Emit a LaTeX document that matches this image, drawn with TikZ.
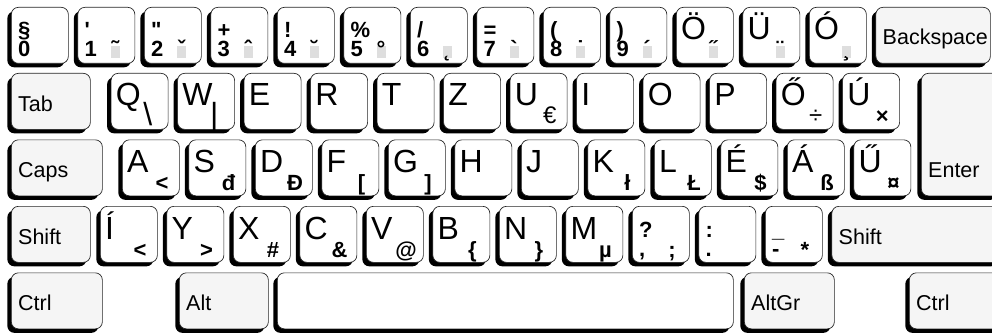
\documentclass[tikz,border=0pt]{standalone}
\usepackage{fontspec}
\setmainfont{Liberation Sans}[Ligatures=TeXOff]
\usetikzlibrary{shadows}
\tikzset{
  keybase/.style={draw=black!85, line width=0.7pt, rounded corners=7pt, inner sep=0pt, anchor=north west, minimum height=56pt, drop shadow={shadow xshift=-4pt, shadow yshift=-4pt, fill=black, opacity=1}},
  lk/.style={keybase, fill=white, minimum width=57pt},
  mk/.style={keybase, fill=black!4},
  biglet/.style={font=\fontsize{32}{32}\selectfont, anchor=base west, inner sep=0pt, text depth=0pt},
  symtop/.style={font=\bfseries\fontsize{22}{22}\selectfont, anchor=base west, inner sep=0pt, text depth=0pt},
  symbot/.style={font=\bfseries\fontsize{22}{22}\selectfont, anchor=base west, inner sep=0pt, text height=0.72em},
  altgr/.style={font=\bfseries\fontsize{22}{22}\selectfont, anchor=base, inner sep=0pt, text height=0.72em},
  altgrthin/.style={font=\fontsize{24}{24}\selectfont, anchor=base, inner sep=0pt, text height=0.72em},
  altgrtall/.style={font=\fontsize{32}{32}\selectfont, anchor=base, inner sep=0pt, text height=0.72em},
  accent/.style={font=\bfseries\fontsize{22}{22}\selectfont, anchor=base, inner sep=0pt, text height=0.72em},
  modl/.style={font=\fontsize{21.5}{21.5}\selectfont, anchor=base west, inner sep=0pt},
  deadbox/.style={fill=black!13},
}
\newcommand\LK[3]{\node[lk] (#1) at (#2,#3) {};}
\newcommand\MK[5]{\node[mk, minimum width=#4pt, minimum height=#5pt] (#1) at (#2,#3) {};}
\newcommand\KL[2]{\node[biglet] at ([shift={(5,33)}]#1.north west) {#2};}
\newcommand\KA[2]{\node[altgr] at ([shift={(40,51)}]#1.north west) {#2};}
\newcommand\KAt[2]{\node[altgrthin] at ([shift={(40,51)}]#1.north west) {#2};}
\newcommand\KAT[2]{\node[altgrtall] at ([shift={(37,52)}]#1.north west) {#2};}
\newcommand\KT[2]{\node[symtop] at ([shift={(7,31)}]#1.north west) {#2};}
\newcommand\KB[2]{\node[symbot] at ([shift={(7,50)}]#1.north west) {#2};}
\newcommand\KD[2]{\path[deadbox] ([shift={(33,39)}]#1.north west) rectangle ([shift={(42,51)}]#1.north west); \node[accent] at ([shift={(37.5,50)}]#1.north west) {#2};}
\newcommand\KM[2]{\node[modl] at ([shift={(7,38)}]#1.north west) {#2};}
\begin{document}
\begin{tikzpicture}[x=1pt,y=-1pt]
\useasboundingbox (0,0) rectangle (992,334);
\clip (0,0) rectangle (992,334);
% row 1
\LK{k0}{11}{7} \KT{k0}{§} \KB{k0}{0}
\LK{k1}{77.5}{7} \KT{k1}{'} \KB{k1}{1} \KD{k1}{˜}
\LK{k2}{144}{7} \KT{k2}{"} \KB{k2}{2} \KD{k2}{ˇ}
\LK{k3}{210.5}{7} \KT{k3}{+} \KB{k3}{3} \KD{k3}{ˆ}
\LK{k4}{277}{7} \KT{k4}{!} \KB{k4}{4} \KD{k4}{˘}
\LK{k5}{343.5}{7} \KT{k5}{\%} \KB{k5}{5} \KD{k5}{°}
\LK{k6}{410}{7} \KT{k6}{/} \KB{k6}{6} \KD{k6}{˛}
\LK{k7}{476.5}{7} \KT{k7}{=} \KB{k7}{7} \KD{k7}{`}
\LK{k8}{543}{7} \KT{k8}{(} \KB{k8}{8} \KD{k8}{˙}
\LK{k9}{609.5}{7} \KT{k9}{)} \KB{k9}{9} \KD{k9}{´}
\LK{kOd}{676}{7} \KL{kOd}{Ö} \KD{kOd}{˝}
\LK{kUd}{742.5}{7} \KL{kUd}{Ü} \KD{kUd}{¨}
\LK{kOa}{809}{7} \KL{kOa}{Ó} \KD{kOa}{¸}
\MK{kBs}{875.5}{7}{114.5}{56} \KM{kBs}{Backspace}
% row 2
\MK{kTab}{11}{73}{79}{56} \KM{kTab}{Tab}
\LK{kQ}{110.75}{73} \KL{kQ}{Q} \KAT{kQ}{\textbackslash}
\LK{kW}{177.25}{73} \KL{kW}{W} \KAT{kW}{|}
\LK{kE}{243.75}{73} \KL{kE}{E}
\LK{kR}{310.25}{73} \KL{kR}{R}
\LK{kT}{376.75}{73} \KL{kT}{T}
\LK{kZ}{443.25}{73} \KL{kZ}{Z}
\LK{kU}{509.75}{73} \KL{kU}{U} \KAt{kU}{€}
\LK{kI}{576.25}{73} \KL{kI}{I}
\LK{kO}{642.75}{73} \KL{kO}{O}
\LK{kP}{709.25}{73} \KL{kP}{P}
\LK{kOu}{775.75}{73} \KL{kOu}{Ő} \KAt{kOu}{÷}
\LK{kUa}{842.25}{73} \KL{kUa}{Ú} \KA{kUa}{×}
\MK{kEnt}{921}{73}{80}{122.5}
\node[modl] at ([shift={(7,104.5)}]kEnt.north west) {Enter};
% row 3
\MK{kCaps}{11}{139.5}{91}{56} \KM{kCaps}{Caps}
\LK{kA}{122}{139.5} \KL{kA}{A} \KA{kA}{<}
\LK{kS}{188.5}{139.5} \KL{kS}{S} \KA{kS}{đ}
\LK{kD}{255}{139.5} \KL{kD}{D} \KA{kD}{Đ}
\LK{kF}{321.5}{139.5} \KL{kF}{F} \KA{kF}{[}
\LK{kG}{388}{139.5} \KL{kG}{G} \KA{kG}{]}
\LK{kH}{454.5}{139.5} \KL{kH}{H}
\LK{kJ}{521}{139.5} \KL{kJ}{J}
\LK{kK}{587.5}{139.5} \KL{kK}{K} \KA{kK}{ł}
\LK{kL}{654}{139.5} \KL{kL}{L} \KA{kL}{Ł}
\LK{kEa}{720.5}{139.5} \KL{kEa}{É} \KA{kEa}{\$}
\LK{kAa}{787}{139.5} \KL{kAa}{Á} \KA{kAa}{ß}
\LK{kUu}{853.5}{139.5} \KL{kUu}{Ű} \KA{kUu}{¤}
% row 4
\MK{kLSh}{11}{206}{79}{56} \KM{kLSh}{Shift}
\LK{kIa}{100}{206} \KL{kIa}{Í} \KA{kIa}{<}
\LK{kY}{166.5}{206} \KL{kY}{Y} \KA{kY}{>}
\LK{kX}{233}{206} \KL{kX}{X} \KA{kX}{\#}
\LK{kC}{299.5}{206} \KL{kC}{C} \KA{kC}{\&}
\LK{kV}{366}{206} \KL{kV}{V} \KA{kV}{@}
\LK{kB}{432.5}{206} \KL{kB}{B} \KA{kB}{\{}
\LK{kN}{499}{206} \KL{kN}{N} \KA{kN}{\}}
\LK{kM}{565.5}{206} \KL{kM}{M} \KA{kM}{µ}
\LK{kCom}{632}{206} \KT{kCom}{?} \KB{kCom}{,} \KA{kCom}{;}
\LK{kDot}{698.5}{206} \KT{kDot}{:} \KB{kDot}{.}
\LK{kMin}{765}{206} \KT{kMin}{\_} \KB{kMin}{-} \KA{kMin}{*}
\MK{kRSh}{831.5}{206}{170}{56} \KM{kRSh}{Shift}
% row 5
\MK{kLCtrl}{11}{272.5}{91}{56} \KM{kLCtrl}{Ctrl}
\MK{kAlt}{179}{272.5}{89}{56} \KM{kAlt}{Alt}
\node[keybase, fill=white, minimum width=456pt] (kSpace) at (277,272.5) {};
\MK{kAltGr}{744}{272.5}{90}{56} \KM{kAltGr}{AltGr}
\MK{kRCtrl}{909}{272.5}{100}{56} \KM{kRCtrl}{Ctrl}
\end{tikzpicture}
\end{document}
